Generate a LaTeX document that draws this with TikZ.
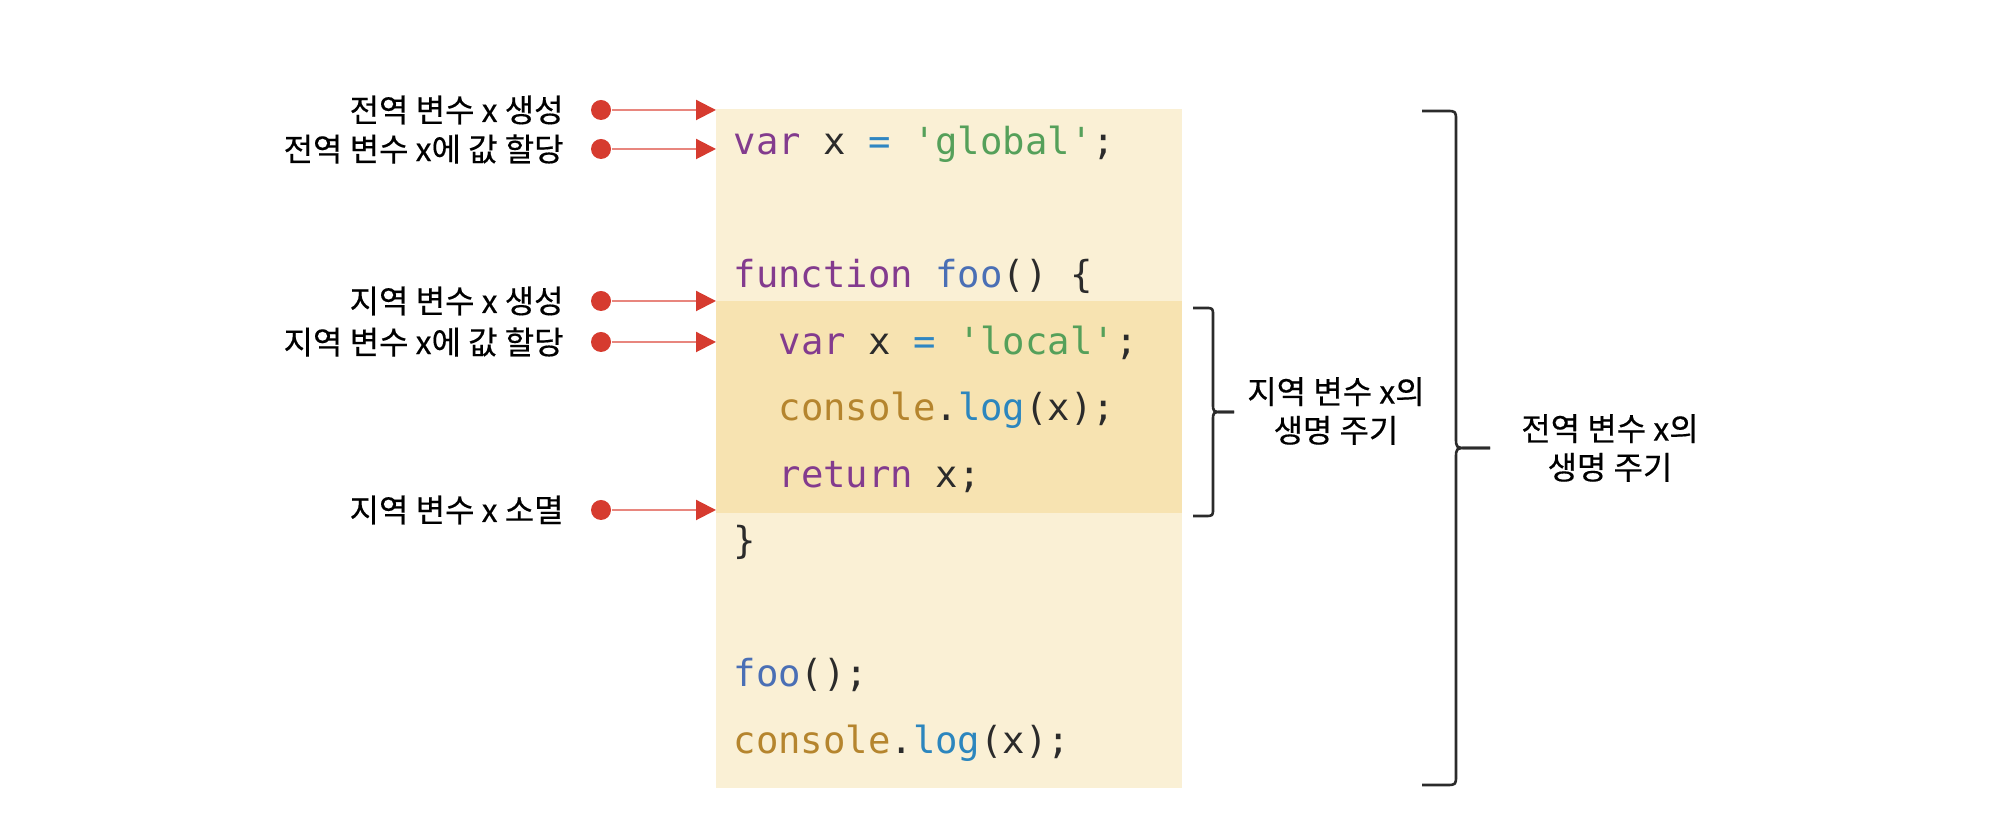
\documentclass[tikz,border=0pt]{standalone}
\usepackage{fontspec}
\usepackage{xcolor}
\usepackage{tikz}
\usetikzlibrary{positioning, arrows.meta}

\newfontfamily\kor[FakeBold=0.35]{Noto Sans CJK KR}
\setmonofont{DejaVu Sans Mono}

\definecolor{boxlight}{HTML}{FAF0D5}
\definecolor{boxdark}{HTML}{F7E3B1}
\definecolor{ptred}{HTML}{D63B2F}
\definecolor{ptline}{HTML}{E8867E}
\definecolor{kwcol}{HTML}{833B8E}
\definecolor{strcol}{HTML}{55A05A}
\definecolor{opcol}{HTML}{2F86C2}
\definecolor{fncol}{HTML}{4A6FB5}
\definecolor{objcol}{HTML}{B5852E}
\definecolor{mthcol}{HTML}{2C86BE}
\definecolor{txtcol}{HTML}{2B2B2B}

\newcommand{\sq}{\char39\relax}
\newcommand{\kw}[1]{\textcolor{kwcol}{#1}}
\newcommand{\jsstr}[1]{\textcolor{strcol}{\sq#1\sq}}
\newcommand{\op}[1]{\textcolor{opcol}{#1}}
\newcommand{\fn}[1]{\textcolor{fncol}{#1}}
\newcommand{\obj}[1]{\textcolor{objcol}{#1}}
\newcommand{\mth}[1]{\textcolor{mthcol}{#1}}

\tikzset{
    dot/.style={circle, fill=ptred, inner sep=0pt, minimum size=0.2cm},
    pointer/.style={ptline, line width=0.6pt, -{Triangle[length=0.2cm, width=0.2cm, color=ptred]}},
    lbl/.style={inner sep=0pt, font=\kor\fontsize{9.1}{11}\selectfont, text=black},
    codeline/.style={inner sep=0pt, anchor=base west, font=\ttfamily\fontsize{10.6}{12}\selectfont, text=txtcol},
    brace/.style={draw=txtcol, line width=0.75pt, line join=round},
    brlbl/.style={inner sep=0pt, align=center, font=\kor\fontsize{9.1}{11}\selectfont, text=black}
}

\begin{document}
\begin{tikzpicture}[>=stealth]
        \useasboundingbox (0,0) rectangle (20,8.23);

        % ==========================================
        % CODE BLOCK: global scope and foo() body
        % ==========================================
        \fill[boxlight] (7.16,0.35) rectangle (11.82,7.14);
        \fill[boxdark] (7.16,3.10) rectangle (11.82,5.22);

        \node[codeline] (c1) at (7.33,6.68) {\kw{var} x \op{=} \jsstr{global};};
        \node[codeline] (c3) at (7.33,5.35) {\kw{function} \fn{foo}() \{};
        \node[codeline] (c4) at (7.78,4.685) {\kw{var} x \op{=} \jsstr{local};};
        \node[codeline] (c5) at (7.78,4.02) {\obj{console}.\mth{log}(x);};
        \node[codeline] (c6) at (7.78,3.355) {\kw{return} x;};
        \node[codeline] (c7) at (7.33,2.69) {\}};
        \node[codeline] (c9) at (7.33,1.36) {\fn{foo}();};
        \node[codeline] (c10) at (7.33,0.695) {\obj{console}.\mth{log}(x);};

        % ==========================================
        % LEFT: pointers into the code
        % ==========================================
        % Dots and box edge targets
        \node[dot] (d1) at (6.01,7.13) {};
        \node[dot] (d2) at (6.01,6.74) {};
        \node[dot] (d3) at (6.01,5.22) {};
        \node[dot] (d4) at (6.01,4.81) {};
        \node[dot] (d5) at (6.01,3.13) {};
        \coordinate (t1) at (7.16,7.13);
        \coordinate (t2) at (7.16,6.74);
        \coordinate (t3) at (7.16,5.22);
        \coordinate (t4) at (7.16,4.81);
        \coordinate (t5) at (7.16,3.13);

        % Labels
        \node[lbl, left=0.26cm of d1] (l1) {전역 변수 x 생성};
        \node[lbl, left=0.26cm of d2] (l2) {전역 변수 x에 값 할당};
        \node[lbl, left=0.26cm of d3] (l3) {지역 변수 x 생성};
        \node[lbl, left=0.26cm of d4] (l4) {지역 변수 x에 값 할당};
        \node[lbl, left=0.26cm of d5] (l5) {지역 변수 x 소멸};

        % Arrows
        \draw[pointer] (d1) -- (t1);
        \draw[pointer] (d2) -- (t2);
        \draw[pointer] (d3) -- (t3);
        \draw[pointer] (d4) -- (t4);
        \draw[pointer] (d5) -- (t5);

        % ==========================================
        % RIGHT: lifetime braces
        % ==========================================
        % Local variable
        \coordinate (sb1) at (11.93,5.15);
        \coordinate (sb2) at (11.93,3.07);
        \coordinate (sbt) at (12.34,4.11);
        \draw[brace] (sb1) -- (12.05,5.15) .. controls (12.13,5.15) .. (12.13,5.07)
            -- (12.13,4.20) .. controls (12.13,4.11) .. (12.22,4.11) -- (sbt);
        \draw[brace] (sb2) -- (12.05,3.07) .. controls (12.13,3.07) .. (12.13,3.15)
            -- (12.13,4.02) .. controls (12.13,4.11) .. (12.22,4.11) -- (sbt);
        \node[brlbl] (sl) at (13.36,4.12) {지역 변수 x의\\생명 주기};

        % Global variable
        \coordinate (gb1) at (14.22,7.12);
        \coordinate (gb2) at (14.22,0.38);
        \coordinate (gbt) at (14.90,3.75);
        \draw[brace] (gb1) -- (14.46,7.12) .. controls (14.56,7.12) .. (14.56,7.02)
            -- (14.56,3.86) .. controls (14.56,3.75) .. (14.67,3.75) -- (gbt);
        \draw[brace] (gb2) -- (14.46,0.38) .. controls (14.56,0.38) .. (14.56,0.48)
            -- (14.56,3.64) .. controls (14.56,3.75) .. (14.67,3.75) -- (gbt);
        \node[brlbl] (gl) at (16.10,3.75) {전역 변수 x의\\생명 주기};

    \end{tikzpicture}
\end{document}
